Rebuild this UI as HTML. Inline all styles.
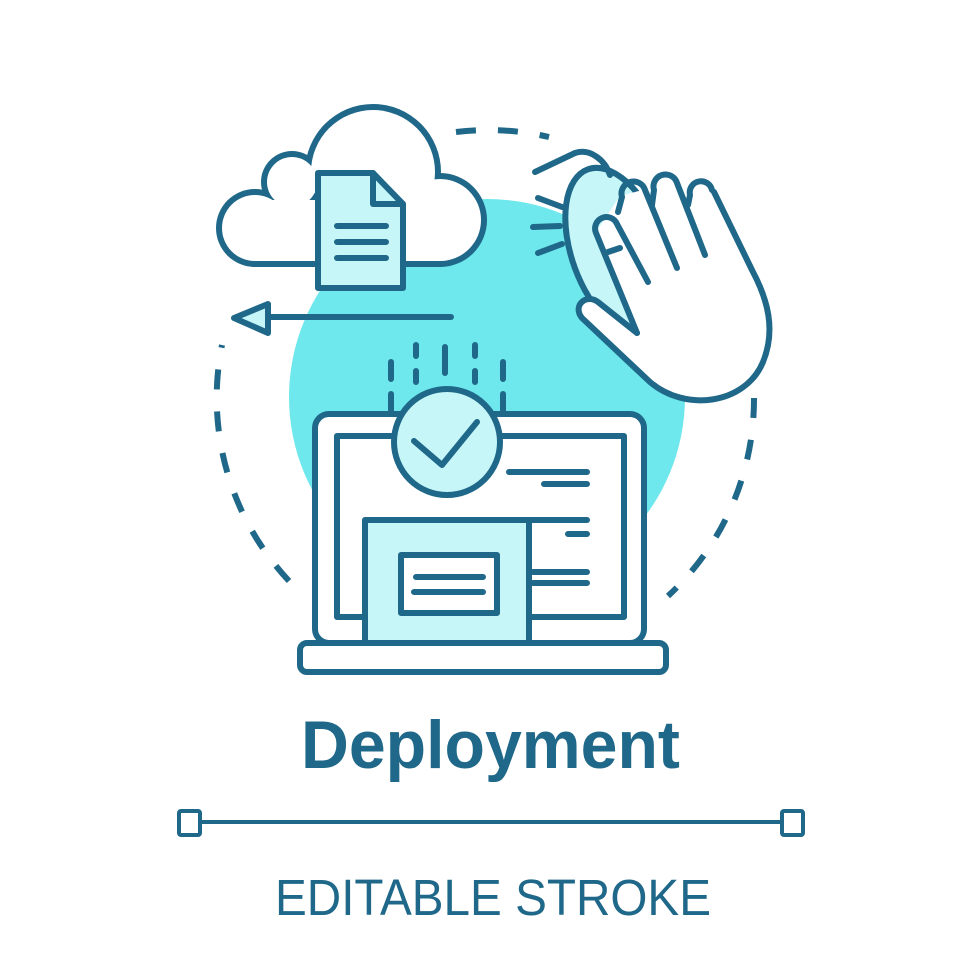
<!DOCTYPE html>
<html><head><meta charset="utf-8"><style>html,body{margin:0;padding:0;background:#fff}svg{display:block}</style></head>
<body>
<svg width="980" height="980" viewBox="0 0 980 980" xmlns="http://www.w3.org/2000/svg">
<rect width="980" height="980" fill="#fff"/>
<circle cx="487" cy="397" r="198" fill="#6ee8ec"/>
<g fill="none" stroke="#1f6889" stroke-width="6" stroke-linecap="round" stroke-linejoin="round">
<g stroke-dasharray="20 22" stroke-linecap="butt">
<path d="M456,132 A268,268 0 0 1 549,137"/>
<path d="M754,398 A268,268 0 0 1 668,596"/>
<path d="M289,581 A268,268 0 0 1 222,345"/>
</g>
</g>
<!-- cloud -->
<g fill="#1f6889">
<circle cx="255" cy="228" r="39"/><circle cx="292" cy="182" r="31"/><circle cx="373" cy="172" r="68"/><circle cx="440" cy="220" r="47"/><rect x="252" y="198" width="190" height="69"/>
</g>
<g fill="#fff">
<circle cx="255" cy="228" r="33"/><circle cx="292" cy="182" r="25"/><circle cx="373" cy="172" r="62"/><circle cx="440" cy="220" r="41"/><rect x="255" y="200" width="185" height="61"/>
</g>
<g fill="none" stroke="#1f6889" stroke-width="6" stroke-linecap="round" stroke-linejoin="round">
<path d="M318,173 L373,173 L403,204 L403,288 L318,288 Z" fill="#c6f6f8"/>
<path d="M373,173 L373,204 L403,204"/>
<path d="M337,226 L386,226 M337,242 L386,242 M337,258 L386,258"/>
<path d="M269,317 L451,317"/>
<path d="M234,318 L268,304 L268,333 Z" fill="#c6f6f8"/>
<!-- mouse -->
<ellipse cx="618" cy="252" rx="46" ry="88" transform="rotate(-20 618 252)" fill="#c6f6f8"/>
<path d="M535,172 L575,153 C590,148 605,160 610,175"/>
<path d="M538,198 L562,207 M533,227 L560,226 M538,253 L562,244"/>
<!-- hand -->
<path d="M637,333 L598,302 C586,293 572,306 582,318 L650,382 C685,412 745,405 763,362 C776,330 768,300 752,270 L712,190 L690,195 L650,188 L620,196 L596,232 Z" fill="#fff" stroke="none"/>
<path d="M637,333 L598,302 C586,293 572,306 582,318 L650,382 C685,412 745,405 763,362 C776,330 768,300 752,270 L714,192"/>
<path d="M688,205 L690,195 A11,11 0 0 1 712,190"/>
<path d="M652,205 L654,190 A11.5,11.5 0 0 1 677,183 L705,255"/>
<path d="M618,212 L622,197 A12,12 0 0 1 645,190 L677,268"/>
<path d="M637,333 L596,233 A11,11 0 0 1 617,224 L648,282"/>
<path d="M608,252 L620,248"/>
<!-- laptop -->
<rect x="315" y="414" width="329" height="229" rx="14" fill="#fff"/>
<rect x="337" y="436" width="287" height="181" fill="#fff"/>
<rect x="365" y="520" width="164" height="123" fill="#c6f6f8"/>
<path d="M529,520 L587,520"/>
<rect x="401" y="555" width="96" height="58" fill="#fff"/>
<path d="M416,577 L483,577 M414,592 L483,592"/>
<path d="M509,472 L587,472 M544,484 L587,484 M568,534 L587,534 M533,572 L587,572 M533,583 L587,583"/>
<rect x="300" y="643" width="366" height="29" rx="7" fill="#fff"/>
<path d="M391,362 L391,379 M391,394 L391,410 M416,345 L416,356 M416,371 L416,382 M445,347 L445,373 M475,345 L475,356 M475,371 L475,382 M503,362 L503,379 M503,394 L503,410"/>
<circle cx="447" cy="442" r="53" fill="#c6f6f8"/>
<path d="M414,441 L442,465 L477,422"/>
<path d="M202,822 L781,822" stroke-width="4"/>
<rect x="179" y="811" width="21" height="24" rx="2" fill="#fff" stroke-width="4"/>
<rect x="782" y="811" width="21" height="24" rx="2" fill="#fff" stroke-width="4"/>
</g>
<text x="301" y="768" font-family="Liberation Sans, sans-serif" font-weight="bold" font-size="68" fill="#1f6889" textLength="379" lengthAdjust="spacingAndGlyphs">Deployment</text>
<text x="275" y="915" font-family="Liberation Sans, sans-serif" font-size="51" fill="#1f6889" textLength="436" lengthAdjust="spacingAndGlyphs">EDITABLE STROKE</text>
</svg>
</body></html>
